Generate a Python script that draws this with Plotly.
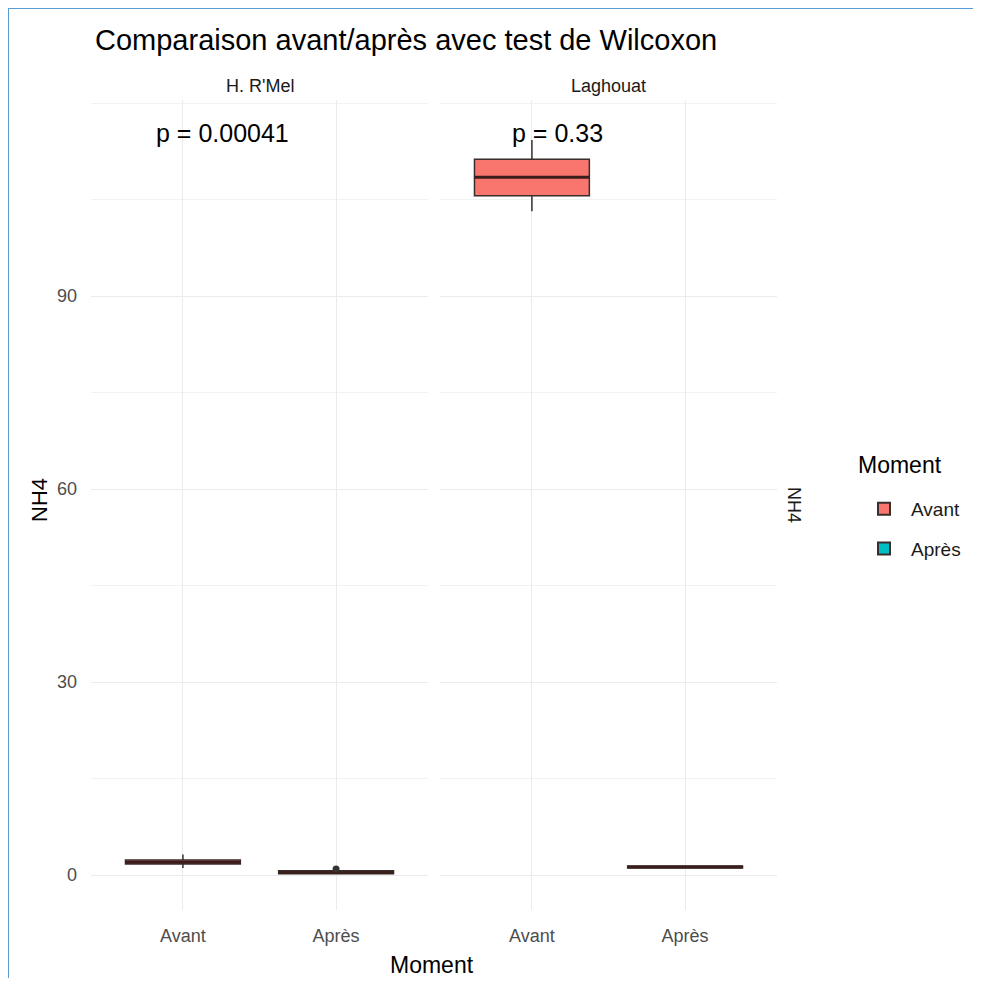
import plotly.graph_objects as go

# ---- data ----
panels = ["H. R'Mel", "Laghouat"]
moments = ["Avant", "Après"]
moment_colors = ["#F8766D", "#00BFC4"]

# per panel, per moment (order: Avant, Après)
lower_whisker = [[1.1, 0.2], [103.2, 1.1]]
q1_vals = [[1.7, 0.2], [105.6, 1.1]]
median_vals = [[2.0, 0.4], [108.5, 1.25]]
q3_vals = [[2.35, 0.65], [111.3, 1.4]]
upper_whisker = [[3.2, 0.65], [114.3, 1.4]]
outliers = [[[], [0.93]], [[], []]]

p_labels = ["p = 0.00041", "p = 0.33"]
p_label_y = [115.4, 115.4]
p_label_x = [1.26, 1.17]

y_ticks = [0, 30, 60, 90]

# ---- geometry (reference page pixels -> figure paper coords; page has 8px body margin) ----
OFF = 8
W, H = 981 - 2 * OFF, 986 - 2 * OFF
px = lambda x: (x - OFF) / W
py = lambda y: 1 - (y - OFF) / H
x_domains = [[px(91), px(428)], [px(440), px(777)]]
y_domain = [py(910), py(100)]
box_w = 0.75
outline = "#3a2d2c"
median_col = "#3a1e1c"

fig = go.Figure()
for pi, panel in enumerate(panels):
    xa = "x" if pi == 0 else "x2"
    ya = "y" if pi == 0 else "y2"
    for mi, mom in enumerate(moments):
        pos = mi + 1
        fig.add_trace(go.Box(
            x=[pos], q1=[q1_vals[pi][mi]], median=[median_vals[pi][mi]],
            q3=[q3_vals[pi][mi]], lowerfence=[lower_whisker[pi][mi]],
            upperfence=[upper_whisker[pi][mi]], width=box_w,
            fillcolor=moment_colors[mi], line=dict(color=outline, width=1.5),
            whiskerwidth=0, boxpoints=False, name=mom, legendgroup=mom,
            showlegend=(pi == 0), xaxis=xa, yaxis=ya, hoverinfo="skip"))
        fig.add_trace(go.Scatter(
            x=[pos - box_w / 2, pos + box_w / 2],
            y=[median_vals[pi][mi]] * 2, mode="lines",
            line=dict(color=median_col, width=3), showlegend=False,
            xaxis=xa, yaxis=ya, hoverinfo="skip"))
        if outliers[pi][mi]:
            fig.add_trace(go.Scatter(
                x=[pos] * len(outliers[pi][mi]), y=outliers[pi][mi],
                mode="markers", marker=dict(color="#333333", size=7),
                showlegend=False, xaxis=xa, yaxis=ya, hoverinfo="skip"))

font_family = "Liberation Sans, Arial, sans-serif"
axis_common = dict(range=[0.4, 2.6], tickvals=[1, 2], ticktext=moments,
                   showgrid=True, gridcolor="#EBEBEB", gridwidth=1,
                   zeroline=False, showline=False, ticks="",
                   tickfont=dict(size=18, color="#4D4D4D"),
                   ticklabelstandoff=13,
                   automargin=False, fixedrange=True)
y_common = dict(range=[-5.44, 120.5], tickvals=y_ticks, showgrid=True,
                gridcolor="#EBEBEB", gridwidth=1, zeroline=False, ticks="",
                minor=dict(dtick=15, showgrid=True, gridcolor="#F2F2F2", gridwidth=0.7),
                automargin=False, fixedrange=True)
fig.update_layout(
    width=W, height=H, margin=dict(l=0, r=0, t=0, b=0),
    paper_bgcolor="white", plot_bgcolor="white",
    font=dict(family=font_family, color="#000000"),
    xaxis=dict(domain=x_domains[0], anchor="y", **axis_common),
    xaxis2=dict(domain=x_domains[1], anchor="y2", **axis_common),
    yaxis=dict(domain=y_domain, anchor="x", tickfont=dict(size=18, color="#4D4D4D"),
               ticklabelstandoff=13, **y_common),
    yaxis2=dict(domain=y_domain, anchor="x2", matches="y", showticklabels=False, **y_common),
    boxmode="overlay",
    showlegend=True,
    legend=dict(x=px(857), y=py(490), xanchor="left", yanchor="top",
                font=dict(size=19, color="#1a1a1a"), bgcolor="rgba(0,0,0,0)",
                itemsizing="constant", itemwidth=44, tracegroupgap=12),
)

ann = []
ann.append(dict(text="Comparaison avant/après avec test de Wilcoxon", x=px(93), y=py(40),
                xref="paper", yref="paper", xanchor="left", yanchor="middle",
                showarrow=False, font=dict(size=29, color="#000")))
for pi, panel in enumerate(panels):
    ann.append(dict(text=panel, x=sum(x_domains[pi]) / 2, y=py(86), xref="paper", yref="paper",
                    xanchor="center", yanchor="middle", showarrow=False,
                    font=dict(size=18, color="#1a1a1a")))
    ann.append(dict(text=p_labels[pi], x=p_label_x[pi], y=p_label_y[pi],
                    xref="x" if pi == 0 else "x2", yref="y" if pi == 0 else "y2",
                    xanchor="center", yanchor="middle", showarrow=False,
                    font=dict(size=25, color="#000")))
ann.append(dict(text="Moment", x=px(432), y=py(965), xref="paper", yref="paper",
                xanchor="center", yanchor="middle", showarrow=False,
                font=dict(size=23, color="#000")))
ann.append(dict(text="Moment", x=px(856), y=py(465), xref="paper", yref="paper",
                xanchor="left", yanchor="middle", showarrow=False,
                font=dict(size=23, color="#000")))
ann.append(dict(text="NH4", x=px(39), y=py(500), xref="paper", yref="paper",
                xanchor="center", yanchor="middle", showarrow=False, textangle=-90,
                font=dict(size=22, color="#000")))
ann.append(dict(text="NH4", x=px(794), y=py(505), xref="paper", yref="paper",
                xanchor="center", yanchor="middle", showarrow=False, textangle=90,
                font=dict(size=18, color="#1a1a1a")))
fig.update_layout(annotations=ann)

fig.update_layout(shapes=[
    dict(type="line", xref="paper", yref="paper", x0=0, x1=1, y0=1, y1=1,
         line=dict(color="#5B9BD5", width=2)),
    dict(type="line", xref="paper", yref="paper", x0=0, x1=0, y0=1, y1=0,
         line=dict(color="#5B9BD5", width=2)),
])

fig.write_html("out.html")
